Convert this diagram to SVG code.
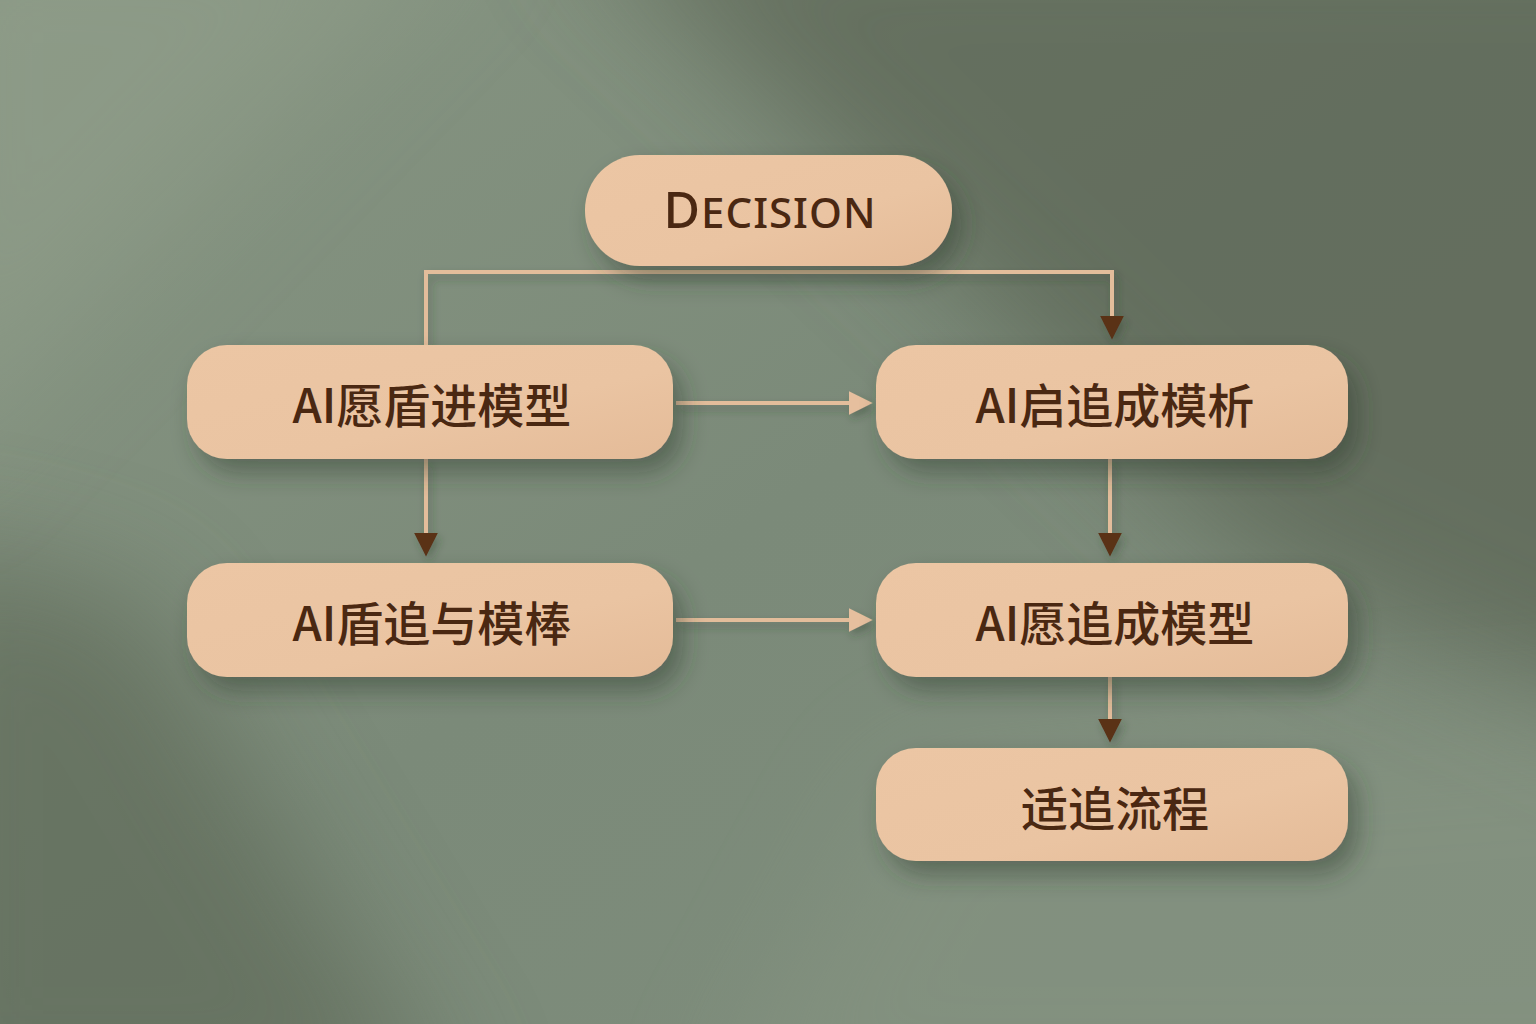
<svg xmlns="http://www.w3.org/2000/svg" width="1536" height="1024" viewBox="0 0 1536 1024">
  <defs>
    <linearGradient id="bg" x1="0" y1="0" x2="1" y2="1">
      <stop offset="0" stop-color="#879582"/>
      <stop offset="0.5" stop-color="#7b8a79"/>
      <stop offset="1" stop-color="#7f8d7c"/>
    </linearGradient>
    <linearGradient id="nodeFill" x1="0" y1="0" x2="1" y2="1">
      <stop offset="0" stop-color="#ecc6a4"/>
      <stop offset="0.6" stop-color="#eac4a2"/>
      <stop offset="1" stop-color="#e4bb98"/>
    </linearGradient>
    <filter id="blurBig" x="-50%" y="-50%" width="200%" height="200%">
      <feGaussianBlur stdDeviation="60"/>
    </filter>
    <filter id="shadow" x="-20%" y="-30%" width="150%" height="180%">
      <feDropShadow dx="10" dy="14" stdDeviation="12" flood-color="#2e3a2c" flood-opacity="0.45"/>
    </filter>
    <filter id="lineShadow" x="-10%" y="-50%" width="130%" height="300%">
      <feDropShadow dx="3" dy="5" stdDeviation="4" flood-color="#2e3a2c" flood-opacity="0.35"/>
    </filter>
    <marker id="arrowDark" viewBox="0 0 10 10" refX="6" refY="5" markerWidth="6" markerHeight="6.5" markerUnits="strokeWidth" orient="auto">
      <path d="M0,0 L10,5 L0,10 Z" fill="#5a3014"/>
    </marker>
    <marker id="arrowLight" viewBox="0 0 10 10" refX="6" refY="5" markerWidth="6" markerHeight="6" markerUnits="strokeWidth" orient="auto">
      <path d="M0,0 L10,5 L0,10 Z" fill="#e6bf9e"/>
    </marker>
  </defs>
  <style>
    .node { fill: url(#nodeFill); filter: url(#shadow); }
    .label { font-family: "Noto Sans CJK SC", "Noto Sans", sans-serif; font-size: 47px; font-weight: 500; fill: #4a2812; text-anchor: middle; dominant-baseline: central; }
    .title { font-family: "Noto Sans", "Open Sans", sans-serif; font-weight: 500; fill: #4a2812; text-anchor: middle; letter-spacing: 1px; }
    .conn { fill: none; stroke: #e3bd9b; stroke-width: 4; }
  </style>

  <g id="background">
    <rect width="1536" height="1024" fill="url(#bg)"/>
    <polygon points="560,-100 1700,-100 1700,760 1250,560" fill="#5a6453" opacity="0.7" filter="url(#blurBig)"/>
    <polygon points="-100,540 140,600 460,1130 -100,1130" fill="#5a6553" opacity="0.6" filter="url(#blurBig)"/>
    <polygon points="-100,-100 480,-100 -100,500" fill="#93a08c" opacity="0.5" filter="url(#blurBig)"/>
    <polygon points="900,760 1700,700 1700,1130 700,1130" fill="#8a9885" opacity="0.4" filter="url(#blurBig)"/>
  </g>

  <g id="connectors" filter="url(#lineShadow)">
    <path class="conn" d="M426,345 L426,272 L1112,272 L1112,330" marker-end="url(#arrowDark)"/>
    <path class="conn" d="M676,403 L863,403" marker-end="url(#arrowLight)"/>
    <path class="conn" d="M426,459 L426,547" marker-end="url(#arrowDark)"/>
    <path class="conn" d="M1110,459 L1110,547" marker-end="url(#arrowDark)"/>
    <path class="conn" d="M676,620 L863,620" marker-end="url(#arrowLight)"/>
    <path class="conn" d="M1110,677 L1110,733" marker-end="url(#arrowDark)"/>
  </g>

  <g id="node-decision">
    <rect class="node" x="585" y="155" width="367" height="111" rx="55"/>
    <text class="title" x="770" y="228"><tspan font-size="50">D</tspan><tspan font-size="42">ECISION</tspan></text>
  </g>

  <g id="node-1">
    <rect class="node" x="187" y="345" width="486" height="114" rx="40"/>
    <text class="label" x="432" y="402">AI愿盾进模型</text>
  </g>

  <g id="node-2">
    <rect class="node" x="876" y="345" width="472" height="114" rx="40"/>
    <text class="label" x="1115" y="402">AI启追成模析</text>
  </g>

  <g id="node-3">
    <rect class="node" x="187" y="563" width="486" height="114" rx="40"/>
    <text class="label" x="432" y="620">AI盾追与模棒</text>
  </g>

  <g id="node-4">
    <rect class="node" x="876" y="563" width="472" height="114" rx="40"/>
    <text class="label" x="1115" y="620">AI愿追成模型</text>
  </g>

  <g id="node-5">
    <rect class="node" x="876" y="748" width="472" height="113" rx="40"/>
    <text class="label" x="1115" y="805">适追流程</text>
  </g>
</svg>
